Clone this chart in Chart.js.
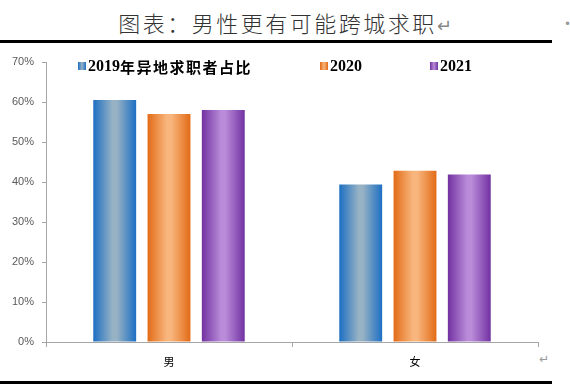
<!DOCTYPE html>
<html>
<head>
<meta charset="utf-8">
<script src="https://cdn.jsdelivr.net/npm/chart.js@4"></script>
<style>
  html, body { margin: 0; padding: 0; background: #fff; }
  #wrap { position: relative; width: 570px; height: 392px; overflow: hidden; }
  #chart { position: absolute; left: 0; top: 0; }
  .title {
    position: absolute; left: 0; width: 570px; top: 6px; text-align: center;
    font-family: "Noto Sans CJK SC", sans-serif; font-weight: 300; font-size: 22px;
    letter-spacing: 2.5px; color: #333;
  }
  .title .ret { color: #888; font-size: 18px; letter-spacing: 0; }
  .rule { position: absolute; left: 0; width: 552px; height: 3px; background: #000; }
  .mark { position: absolute; color: #999; font-family: "DejaVu Sans", sans-serif; font-size: 12px; }
</style>
</head>
<body>
<div id="wrap">
  <div class="title">图表：男性更有可能跨城求职<span class="ret">↵</span></div>
  <div class="rule" style="top:40px"></div>
  <div class="rule" style="top:381px"></div>
  <div class="mark" style="left:564px;top:17px;">•</div>
  <div class="mark" style="left:539px;top:352px;">↵</div>
  <canvas id="chart" width="570" height="392"></canvas>
</div>
<script>
// data
const categories = ['男', '女'];
const seriesNames = ['2019年异地求职者占比', '2020', '2021'];
const values2019 = [60.5, 39.4];
const values2020 = [57.0, 42.8];
const values2021 = [58.0, 41.9];
const yTicks = [0, 10, 20, 30, 40, 50, 60, 70];

// edge / center colours for the cylinder-like gradient
const barColors = [
  { edge: '#1c6fc3', mid: '#97b2c4' },
  { edge: '#e26b16', mid: '#f8b67e' },
  { edge: '#7232a2', mid: '#b98bd8' }
];

const CAT_PCT = 0.662;
const BAR_PCT = 0.79;

function barGradient(ctx) {
  const chart = ctx.chart;
  const x = chart.scales.x;
  const c = chart.ctx;
  const col = barColors[ctx.datasetIndex];
  if (!x || x.width === undefined || ctx.dataIndex === undefined) return col.edge;
  const catW = x.width / categories.length;
  const slot = catW * CAT_PCT / 3;
  const center = x.getPixelForValue(ctx.dataIndex) + (ctx.datasetIndex - 1) * slot;
  const w = slot * BAR_PCT;
  const g = c.createLinearGradient(center - w / 2, 0, center + w / 2, 0);
  g.addColorStop(0, col.edge);
  g.addColorStop(0.45, col.mid);
  g.addColorStop(0.55, col.mid);
  g.addColorStop(1, col.edge);
  return g;
}

// legend drawn inside the plot, with wide spacing like the original
const insideLegend = {
  id: 'insideLegend',
  afterDraw(chart) {
    const c = chart.ctx;
    const y = 66;
    let x = 78;
    c.save();
    c.textBaseline = 'middle';
    chart.data.datasets.forEach((ds, i) => {
      const col = barColors[i];
      const g = c.createLinearGradient(x, 0, x + 8, 0);
      g.addColorStop(0, col.edge);
      g.addColorStop(0.5, col.mid);
      g.addColorStop(1, col.edge);
      c.fillStyle = g;
      c.fillRect(x, y - 4, 8, 8);
      x += 10;
      c.fillStyle = '#000';
      // split into latin / CJK runs
      const runs = ds.label.match(/[\x00-\x7f]+|[^\x00-\x7f]+/g);
      runs.forEach(r => {
        const cjk = /[^\x00-\x7f]/.test(r);
        c.font = cjk ? 'bold 15px "Noto Sans CJK SC", serif' : 'bold 16px "Liberation Serif", serif';
        c.letterSpacing = cjk ? '1.5px' : '0px';
        c.fillText(r, x, y + 1);
        x += c.measureText(r).width;
      });
      c.letterSpacing = '0px';
      x += 68;
    });
    c.restore();
  }
};

const ctx = document.getElementById('chart').getContext('2d');
const datasetValues = [values2019, values2020, values2021];
new Chart(ctx, {
  type: 'bar',
  data: {
    labels: categories,
    datasets: seriesNames.map((name, i) => ({
      label: name,
      data: datasetValues[i],
      backgroundColor: barGradient,
      borderWidth: 0,
      categoryPercentage: CAT_PCT,
      barPercentage: BAR_PCT
    }))
  },
  options: {
    responsive: false,
    animation: false,
    layout: { padding: { left: 0, right: 32, top: 62, bottom: 20 } },
    plugins: {
      legend: { display: false },
      tooltip: { enabled: false }
    },
    scales: {
      x: {
        grid: {
          offset: true, drawOnChartArea: false, drawTicks: true,
          tickLength: 5, color: '#a6a6a6'
        },
        border: { color: '#a6a6a6', width: 1 },
        ticks: {
          color: '#000', padding: 8,
          font: { family: '"Noto Sans CJK SC", sans-serif', size: 11 }
        },
        afterFit: s => { s.height = 30; }
      },
      y: {
        min: 0, max: 70,
        afterBuildTicks: s => { s.ticks = yTicks.map(v => ({ value: v })); },
        grid: { drawOnChartArea: false, drawTicks: true, tickLength: 4, color: '#a6a6a6' },
        border: { color: '#a6a6a6', width: 1 },
        ticks: {
          color: '#595959', padding: 8,
          font: { family: '"Liberation Sans", Arial, sans-serif', size: 11 },
          callback: v => v + '%'
        },
        afterFit: s => { s.width = 46; }
      }
    }
  },
  plugins: [insideLegend]
});
</script>
</body>
</html>
